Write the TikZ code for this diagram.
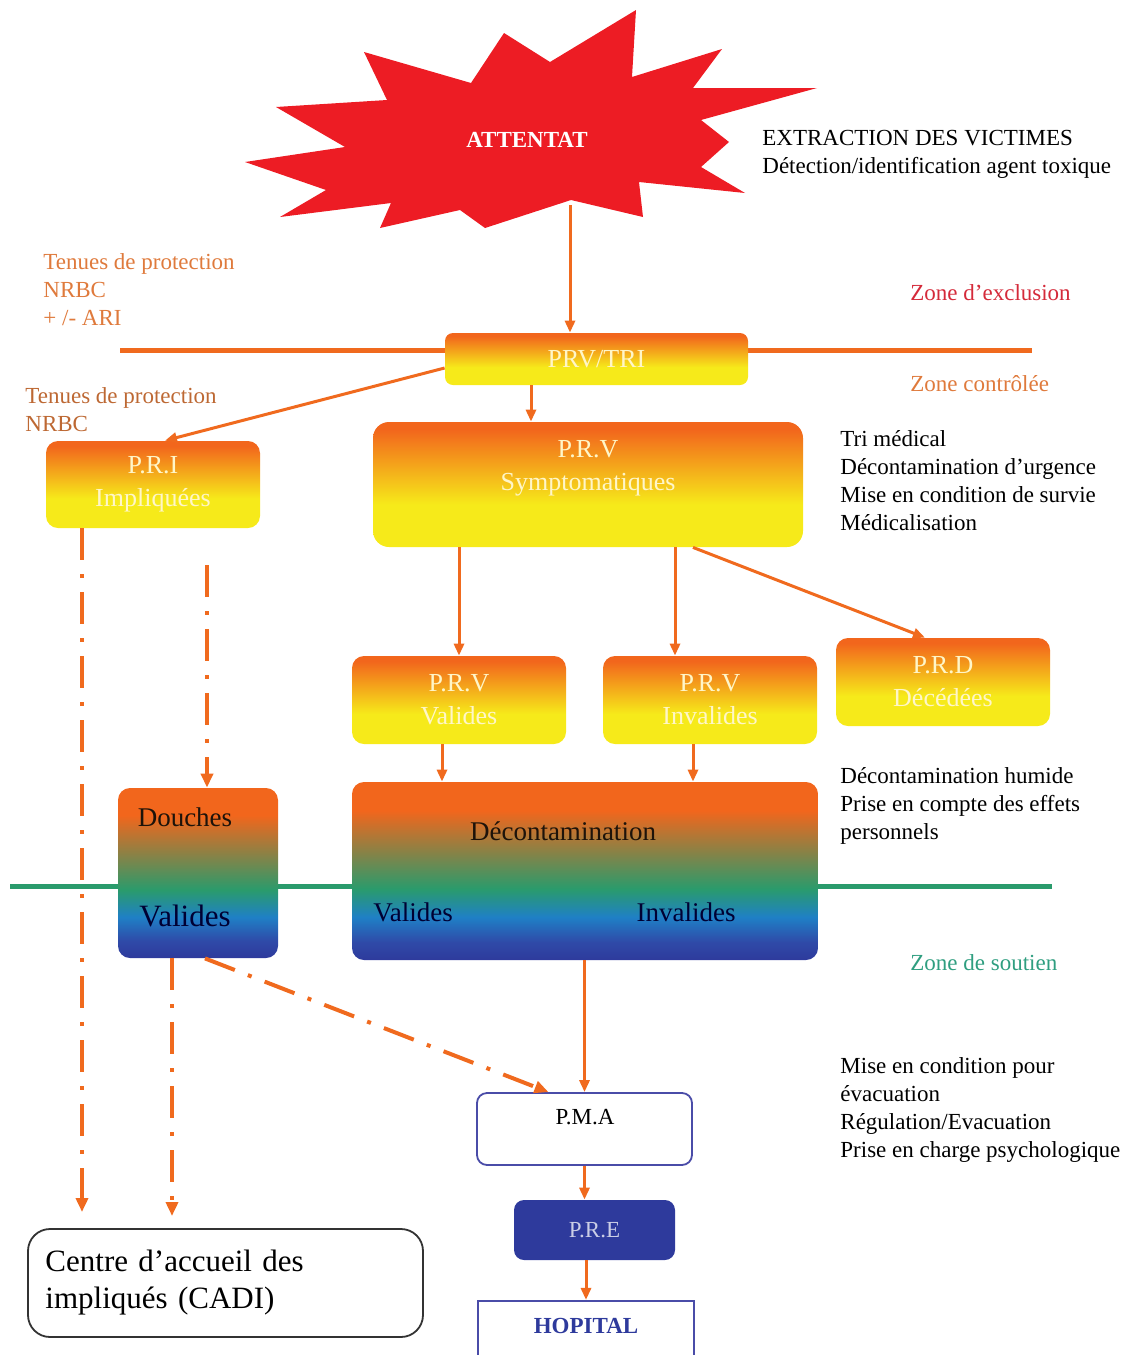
\documentclass[tikz,border=0pt]{standalone}
\usepackage{fontspec}
\setmainfont{Liberation Serif}
\usetikzlibrary{arrows.meta, positioning, calc}

\definecolor{porg}{HTML}{F2661C}
\definecolor{pyel}{HTML}{F6EA1A}
\definecolor{pgrn}{HTML}{2A9B6C}
\definecolor{pcyn}{HTML}{1F80C6}
\definecolor{pblu}{HTML}{2F4AA8}
\definecolor{pdkb}{HTML}{2E3A9C}
\definecolor{pline}{HTML}{F06A1E}
\definecolor{pred}{HTML}{ED1C24}
\definecolor{ptxt}{HTML}{FFF6C8}
\definecolor{zorg}{HTML}{DF7A3C}
\definecolor{zred}{HTML}{D42A3A}
\definecolor{zgrn}{HTML}{2F9E80}
\definecolor{pbord}{HTML}{4A4CA8}

% box shadings (25bp = bottom of the box, 75bp = top)
\pgfdeclareverticalshading{oryel}{100bp}{color(0bp)=(pyel); color(25bp)=(pyel); color(42bp)=(pyel); color(72bp)=(porg); color(75bp)=(porg); color(100bp)=(porg)}
\pgfdeclareverticalshading{rainb}{100bp}{color(0bp)=(pdkb); color(25bp)=(pdkb); color(30bp)=(pblu); color(37bp)=(pcyn); color(45bp)=(pgrn); color(67bp)=(porg); color(75bp)=(porg); color(100bp)=(porg)}

\begin{document}
\begin{tikzpicture}[
    x=0.5pt, y=-0.5pt,
    orgbox/.style = {rectangle, rounded corners=6pt, shade, shading=oryel, align=center, text=ptxt, font=\fontsize{13}{16.5}\selectfont, inner sep=0pt},
    rnbbox/.style = {rectangle, rounded corners=6pt, shade, shading=rainb, inner sep=0pt},
    boxtxt/.style = {align=center, inner sep=0pt, font=\fontsize{13.5}{16.5}\selectfont},
    note/.style = {align=left, anchor=base west, inner sep=0pt, font=\fontsize{11.5}{14}\selectfont},
    arrow/.style = {draw=pline, line width=1.5pt, -{Triangle[length=6pt,width=5pt]}},
    dasharrow/.style = {draw=pline, line width=2pt, dash pattern=on 16pt off 7pt on 2pt off 7pt, -{Triangle[length=7pt,width=6pt]}}
]
\useasboundingbox (0,0) rectangle (1137,1355);

% Zone limits
\draw[pline, line width=2.5pt] (120,350) -- (1032,350);
\draw[pgrn, line width=2.5pt] (10,886) -- (1052,886);

% Starburst
\fill[pred] (364,52) -- (471,83) -- (504,33) -- (550,62) -- (636,10) -- (632,77)
  -- (722,49) -- (693,88) -- (817,88) -- (701,120) -- (729,142) -- (701,167)
  -- (745,193) -- (639,182) -- (643,217) -- (571,200) -- (485,228) -- (460,210)
  -- (380,228) -- (391,203) -- (280,217) -- (326,190) -- (245,162) -- (345,147)
  -- (276,107) -- (387,100) -- cycle;
\node (attentat) [text=white, font=\bfseries\fontsize{11.5}{14}\selectfont] at (527,140) {ATTENTAT};
\coordinate (star_bot) at (570,205);

% Boxes
\node (prvtri) [orgbox, minimum width=151.5pt, minimum height=26pt, rounded corners=4pt] at (596.5,359) {PRV/TRI};
\node (pri) [orgbox, minimum width=107pt, minimum height=43.5pt] at (153,484.5) {P.R.I\\Impliquées};
\node (prvsym) [orgbox, minimum width=215pt, minimum height=62.5pt, rounded corners=8pt] at (588,484.5) {};
\node (prvsym_t) [boxtxt, text=ptxt, font=\fontsize{13}{16.5}\selectfont] at ([yshift=8pt]prvsym.center) {P.R.V\\Symptomatiques};
\node (prvval) [orgbox, minimum width=107pt, minimum height=44pt] at (459,700) {P.R.V\\Valides};
\node (prvinv) [orgbox, minimum width=107pt, minimum height=44pt] at (710,700) {P.R.V\\Invalides};
\node (prd) [orgbox, minimum width=107pt, minimum height=44pt] at (943,682) {P.R.D\\Décédées};

\node (douches) [rnbbox, minimum width=80pt, minimum height=85pt] at (198,873) {};
\node (douches_t) [boxtxt, text=black!85!brown] at (185,817) {Douches};
\node (douches_v) [boxtxt, text=black!80!blue, font=\fontsize{15.5}{18}\selectfont] at (185,916) {Valides};

\node (decont) [rnbbox, minimum width=233pt, minimum height=89pt] at (585,871) {};
\node (decont_t) [boxtxt, text=black!85!brown] at (563,831) {Décontamination};
\node (decont_v) [boxtxt, text=black!80!blue] at (413,912) {Valides};
\node (decont_i) [boxtxt, text=black!80!blue] at (686,912) {Invalides};

\node (pma) [rectangle, rounded corners=5pt, draw=pbord, line width=0.9pt, fill=white, minimum width=107.5pt, minimum height=36pt] at (584.5,1129) {};
\node (pma_t) [boxtxt, font=\fontsize{11.5}{14}\selectfont] at (585,1117) {P.M.A};
\node (pre) [rectangle, rounded corners=5pt, fill=pdkb, text=pdkb!25!white, font=\fontsize{11.5}{14}\selectfont, minimum width=80.5pt, minimum height=30pt] at (594.5,1230) {P.R.E};
\node (hopital) [rectangle, draw=pbord, line width=1.1pt, minimum width=108pt, minimum height=30pt] at (586,1331) {};
\node (hopital_t) [boxtxt, text=pdkb, font=\bfseries\fontsize{11.5}{14}\selectfont] at (586,1326) {HOPITAL};
\node (cadi) [rectangle, rounded corners=11pt, draw=black!80, line width=0.9pt, minimum width=197.5pt, minimum height=54pt, align=left, font=\fontsize{15.5}{18.5}\selectfont, text width=180pt] at (225.5,1283) {Centre d’accueil des\\impliqués (CADI)};

% Notes (anchored on the baseline of their last line)
\node (extract) [note] at (762,173) {EXTRACTION DES VICTIMES\\Détection/identification agent toxique};
\node (tenues1) [note, text=zorg] at (43,325) {Tenues de protection\\NRBC\\+ /- ARI};
\node (zexcl) [note, text=zred] at (910,300) {Zone d’exclusion};
\node (zctrl) [note, text=zorg] at (910,391) {Zone contrôlée};
\node (tenues2) [note, text=zorg!85!black] at (25,431) {Tenues de protection\\NRBC};
\node (tri) [note] at (840,530) {Tri médical\\Décontamination d’urgence\\Mise en condition de survie\\Médicalisation};
\node (dechum) [note] at (840,839) {Décontamination humide\\Prise en compte des effets\\personnels};
\node (zsout) [note, text=zgrn] at (910,970) {Zone de soutien};
\node (evac) [note] at (840,1157) {Mise en condition pour\\évacuation\\Régulation/Evacuation\\Prise en charge psychologique};

% Connections: main flow
\draw[arrow] (star_bot) -- (star_bot |- prvtri.north);
\coordinate (tri_out) at ([xshift=-32.75pt]prvtri.south);
\draw[arrow] (tri_out) -- (tri_out |- prvsym.north);
\draw[arrow] ([yshift=-4.5pt]prvtri.west) -- ([xshift=6pt]pri.north);

\draw[arrow] (prvval.north |- prvsym.south) -- (prvval.north);
\coordinate (inv_in) at ([xshift=-17.5pt]prvinv.north);
\draw[arrow] (inv_in |- prvsym.south) -- (inv_in);
\draw[arrow] ([xshift=52.5pt]prvsym.south) -- ([xshift=-9pt]prd.north);

\coordinate (val_out) at ([xshift=-8.5pt]prvval.south);
\draw[arrow] (val_out) -- (val_out |- decont.north);
\coordinate (inv_out) at ([xshift=-8.5pt]prvinv.south);
\draw[arrow] (inv_out) -- (inv_out |- decont.north);

\draw[arrow] (pma.north |- decont.south) -- (pma.north);
\draw[arrow] (pma.south) -- (pma.south |- pre.north);
\draw[arrow] (hopital.north |- pre.south) -- (hopital.north);

% Connections: involved people
\coordinate (pri_cadi) at (82,1212);
\draw[dasharrow] (pri.south -| pri_cadi) -- (pri_cadi);
\coordinate (pri_dch) at (207,565);
\draw[dasharrow] (pri_dch) -- (pri_dch |- douches.north);
\coordinate (dch_cadi) at (172,1216);
\draw[dasharrow] (douches.south -| dch_cadi) -- (dch_cadi);
\draw[dasharrow] ([xshift=3.5pt]douches.south) -- ([xshift=-18pt]pma.north);

\end{tikzpicture}
\end{document}
